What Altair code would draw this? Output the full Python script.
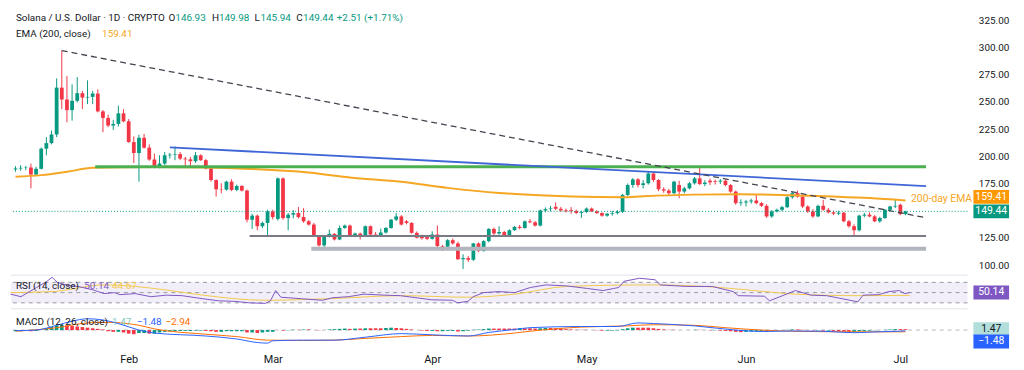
import altair as alt
import pandas as pd

# ---------------- data ----------------
START = pd.Timestamp("2025-01-10")

opens = [187.9, 188.8, 189.4, 189.7, 183.3, 188.5, 207.0, 212.1, 220.0, 263.0,
         252.1, 242.4, 250.9, 257.9, 253.9, 254.5, 257.6, 241.2, 235.2, 228.2,
         229.7, 239.4, 232.1, 213.0, 203.0, 217.0, 207.9, 197.0, 189.7, 193.3,
         200.9, 201.5, 202.0, 197.9, 197.2, 195.5, 200.9, 196.4, 188.8, 178.2,
         169.7, 169.4, 176.7, 169.1, 172.7, 168.5, 141.8, 145.5, 135.8, 138.8,
         149.4, 142.5, 179.7, 143.3, 146.4, 147.9, 144.2, 140.3, 137.3, 126.7,
         118.2, 126.7, 128.8, 123.6, 134.2, 136.4, 127.3, 129.1, 126.7, 135.8,
         128.2, 127.3, 130.0, 134.2, 141.8, 144.8, 140.3, 138.8, 129.7, 126.4,
         125.8, 124.2, 128.2, 117.6, 117.0, 123.0, 120.0, 105.5, 106.5, 105.0,
         120.0, 113.0, 122.1, 133.3, 129.1, 130.5, 127.3, 132.1, 135.2, 134.2,
         140.3, 139.4, 136.4, 150.3, 151.5, 153.6, 151.8, 150.3, 150.6, 149.8,
         148.0, 148.8, 152.0, 149.4, 147.9, 145.5, 147.3, 147.9, 149.0, 164.5,
         173.6, 178.8, 173.6, 175.2, 184.2, 178.2, 169.7, 168.5, 166.1, 173.6,
         167.6, 170.6, 175.2, 179.7, 174.5, 177.6, 177.3, 176.7, 177.6, 173.6,
         167.6, 157.0, 157.6, 158.5, 159.4, 157.0, 154.5, 144.8, 149.4, 150.9,
         153.3, 162.4, 166.1, 163.0, 153.9, 149.4, 144.8, 154.5, 150.9, 148.5,
         147.3, 148.2, 140.3, 135.8, 132.1, 145.5, 146.4, 144.8, 140.3, 143.3,
         150.9, 153.9, 155.5, 146.93]

highs = [190.9, 191.8, 191.2, 193.3, 190.3, 208.0, 217.6, 223.6, 271.5, 297.0,
         273.6, 266.1, 272.7, 260.0, 269.7, 260.0, 261.5, 242.5, 238.2, 233.5,
         246.4, 243.3, 234.2, 218.3, 219.7, 220.6, 210.9, 202.4, 200.9, 203.9,
         203.0, 209.1, 203.9, 199.4, 199.4, 203.9, 201.8, 197.5, 190.0, 178.8,
         175.2, 177.6, 178.8, 174.0, 173.5, 169.5, 147.3, 146.5, 140.0, 150.9,
         151.0, 180.6, 180.6, 148.0, 150.6, 153.3, 152.4, 141.5, 138.8, 127.6,
         127.6, 132.7, 129.4, 136.4, 137.3, 137.3, 130.0, 129.8, 136.4, 136.5,
         130.5, 133.6, 135.0, 142.4, 147.9, 146.0, 141.5, 139.5, 131.0, 128.0,
         127.0, 131.2, 136.4, 118.5, 124.0, 124.5, 121.5, 110.0, 108.5, 120.5,
         121.0, 123.0, 134.0, 134.5, 135.8, 131.5, 133.0, 136.0, 137.0, 141.0,
         142.5, 140.5, 151.0, 153.0, 154.5, 157.6, 153.5, 152.0, 153.3, 151.0,
         150.0, 153.0, 153.0, 150.5, 148.5, 148.0, 150.0, 150.5, 165.5, 175.0,
         180.0, 180.0, 178.2, 185.8, 185.0, 179.0, 171.5, 170.0, 177.5, 177.5,
         172.0, 176.5, 181.0, 190.3, 178.0, 179.5, 178.5, 179.0, 178.5, 174.5,
         168.5, 160.5, 160.0, 161.0, 164.5, 158.0, 156.0, 150.5, 152.0, 154.5,
         163.5, 167.5, 168.5, 164.0, 155.0, 151.5, 155.5, 160.0, 152.5, 150.0,
         150.0, 149.0, 141.5, 137.5, 146.5, 148.0, 148.5, 146.0, 144.5, 151.5,
         154.5, 160.0, 156.5, 149.98]

lows = [185.8, 186.7, 187.3, 170.6, 182.7, 187.9, 200.9, 210.9, 217.6, 243.3,
        231.2, 232.7, 249.4, 243.3, 247.9, 247.9, 240.3, 222.1, 226.7, 224.2,
        227.3, 231.2, 212.5, 193.9, 176.7, 207.0, 195.8, 189.0, 189.0, 191.8,
        197.9, 196.4, 196.4, 190.9, 190.9, 193.9, 195.8, 187.9, 176.7, 163.0,
        166.1, 168.5, 168.0, 167.9, 167.6, 139.4, 133.3, 132.1, 134.0, 127.3,
        142.0, 141.0, 141.8, 132.1, 143.0, 143.0, 139.0, 136.4, 125.8, 117.0,
        114.5, 125.5, 122.7, 123.0, 133.5, 126.1, 126.5, 123.6, 126.0, 127.5,
        126.7, 126.5, 129.0, 133.5, 140.5, 136.5, 137.5, 129.0, 124.5, 123.5,
        123.0, 123.5, 116.5, 113.0, 116.0, 119.0, 104.8, 96.5, 103.0, 103.9,
        112.0, 112.5, 121.0, 127.5, 128.0, 126.5, 126.5, 131.5, 133.0, 133.5,
        138.5, 135.5, 135.5, 148.5, 149.5, 150.5, 149.0, 148.5, 147.3, 147.0,
        143.5, 148.0, 148.8, 147.0, 144.5, 144.5, 145.5, 146.5, 148.0, 163.5,
        171.0, 171.5, 170.5, 174.0, 176.5, 168.0, 166.5, 164.5, 165.0, 161.5,
        166.0, 169.5, 174.0, 173.5, 172.5, 173.5, 174.0, 174.5, 172.5, 166.5,
        155.5, 154.5, 153.9, 156.5, 156.0, 153.5, 143.5, 143.5, 148.5, 149.5,
        152.5, 161.0, 162.0, 152.5, 148.0, 143.5, 144.0, 150.0, 147.5, 146.0,
        146.0, 139.5, 134.5, 126.5, 131.0, 144.0, 144.0, 139.5, 139.0, 142.5,
        150.0, 152.5, 146.0, 145.94]

closes = [188.8, 189.4, 189.7, 183.3, 188.5, 207.0, 212.1, 220.0, 263.0, 252.1,
          242.4, 250.9, 257.9, 253.9, 254.5, 257.6, 241.2, 235.2, 228.2, 229.7,
          239.4, 232.1, 213.0, 203.0, 217.0, 207.9, 197.0, 189.7, 193.3, 200.9,
          201.5, 202.0, 197.9, 197.2, 195.5, 200.9, 196.4, 188.8, 178.2, 169.7,
          169.4, 176.7, 169.1, 172.7, 168.5, 141.8, 145.5, 135.8, 138.8, 149.4,
          144.2, 179.7, 143.3, 146.4, 147.9, 144.2, 140.3, 137.3, 126.7, 118.2,
          126.7, 128.8, 123.6, 134.2, 136.4, 127.3, 129.1, 126.7, 135.8, 128.2,
          127.3, 130.0, 134.2, 141.8, 144.8, 137.3, 138.8, 129.7, 125.2, 124.8,
          124.2, 128.2, 117.6, 117.0, 123.0, 120.0, 105.5, 106.5, 105.0, 120.0,
          113.0, 122.1, 133.3, 129.1, 130.5, 127.3, 132.1, 135.2, 134.2, 140.3,
          139.4, 136.4, 150.3, 151.5, 152.1, 151.8, 150.3, 149.4, 149.8, 148.0,
          148.8, 152.0, 149.4, 147.9, 145.5, 147.3, 147.9, 149.0, 164.5, 173.6,
          178.8, 173.6, 175.2, 184.2, 178.2, 169.7, 168.5, 166.1, 176.7, 167.6,
          170.6, 175.2, 179.7, 174.5, 175.8, 176.1, 176.7, 177.6, 173.6, 167.6,
          157.0, 157.6, 158.5, 159.4, 157.0, 154.5, 144.8, 149.4, 150.9, 153.3,
          162.4, 166.1, 163.0, 153.9, 149.4, 144.8, 154.5, 150.9, 148.5, 147.3,
          148.2, 140.3, 135.8, 132.1, 145.5, 146.4, 144.8, 140.3, 143.3, 150.9,
          153.9, 154.5, 146.93, 149.44]

# EMA(200) read at sample days (day index from Jan 10)
ema_idx = [0, 5, 10, 15, 27, 37, 46, 56, 65, 75, 84, 94, 103, 113, 118, 122, 132, 141, 151, 159, 166, 173]
ema_val = [181.2, 182.7, 185.7, 189.4, 190.2, 189.8, 188.3, 185.5, 180.5, 176.6, 171.0, 166.3,
           164.0, 162.6, 162.4, 163.3, 164.8, 165.2, 164.2, 163.0, 161.6, 159.41]

# trend lines / levels drawn on the chart: (start day, end day, start price, end price)
trend_names = ["falling", "blue", "green", "support", "support2"]
trend_start = [9, 30, 15.5, 45.5, 57.5]
trend_end = [177, 177, 177, 177, 177]
trend_p0 = [297.0, 208.2, 190.3, 126.8, 115.2]
trend_p1 = [143.6, 172.7, 190.3, 126.8, 115.2]

# RSI(14) and its moving average, read at sample days
rsi_idx = [0, 2, 5, 7, 8, 9, 11, 13, 16, 18, 20, 21, 24, 27, 30, 33, 37, 40, 43, 46, 49, 50,
           51, 52, 56, 60, 62, 65, 68, 72, 75, 78, 81, 85, 86, 88, 89, 91, 94, 97, 100, 103,
           107, 111, 114, 116, 117, 118, 121, 124, 125, 130, 135, 139, 140, 145, 146, 151, 154,
           157, 159, 163, 164, 167, 169, 171, 172, 173]
rsi_val = [47, 42, 60, 72, 80, 70, 64, 62, 55, 48, 50, 46, 48, 42, 45, 44, 38, 34, 33, 30, 29, 34,
           54, 41, 38, 35, 40, 42, 47, 45, 44, 40, 36, 35, 30, 33, 42, 50, 52, 50, 60, 65,
           63, 58, 54, 58, 60, 72, 78, 75, 65, 62, 62, 52, 44, 43, 34, 54, 45,
           44, 40, 32, 45, 46, 52, 54, 48, 50.14]
rsima_idx = [0, 8, 18, 24, 30, 37, 49, 61, 75, 88, 97, 107, 123, 135, 143, 151, 163, 173]
rsima_val = [50, 52, 65, 62, 55, 45, 35, 38, 44, 41, 47, 62, 65, 61, 54, 47, 44, 44.67]

# MACD(12, 26) line and signal, read at sample days; histogram per day
macd_idx = [0, 4, 8, 11, 14, 17, 20, 24, 27, 37, 43, 47, 49, 50, 56, 62, 68, 75, 81, 88, 92,
            97, 100, 110, 117, 121, 124, 132, 140, 145, 151, 157, 163, 166, 173]
macd_val = [-1, 0, 8, 15, 19, 17, 11, 0, -5, -10, -15, -21, -22, -18, -17, -17, -12, -6, -8,
            -10, -4, 1, 4, 6, 6, 12, 11, 7, 0, -2.5, -1.5, -2, -4.5, -3.5, -1.48]
sig_idx = [0, 8, 14, 18, 24, 27, 37, 43, 49, 56, 62, 68, 75, 81, 88, 97, 100, 110, 119, 124,
           132, 138, 145, 151, 164, 173]
sig_val = [-2, 4, 12, 13, 8, 2, -7, -11, -17, -17.5, -17, -14, -11, -9, -10, -5, -2, 5, 7, 9,
           8, 4, 0, -2, -3, -2.94]
hist_val = [-2, -2, -1.5, -2, -1.5,
            1, 3, 5, 8, 9,
            8, 7, 6, 5, 4,
            3, 2, 1,
            -2, -3, -3, -4, -6, -7, -5, -5, -6, -6,
            -4, -3, -2, -2, -1.5, -1.5, -1.5, -1, -1, -1.5, -2, -3, -3,
            -2, -2, -2, -2, -4, -4, -5, -4, -3, -3,
            0, -1, -0.5, 0.5, 0.5, 1, 1, 0, -0.5, 0, 1,
            1.5, 2, 2.5, 2, 2.5, 2.5, 3, 3, 3, 3, 3.5, 4, 3.5, 3,
            2, 1, 0, -1, -1.5, -1.5, -2, -2, -1.5, -1.5, -2.5, -2,
            -1, 0.5, 1, 1.5, 2.5, 2.5, 2.5, 2.5, 2.5, 2.5, 3, 3, 3, 2.5, 3,
            3.5, 3.5, 3, 2, 1.5, 1, 0.5, 0.5, 0.5, 0, -0.5,
            -1, -1, -1, -0.5,
            1.5, 3, 4, 4, 4, 4,
            3, 2, 1, 0.5, 0.5, 0, 0, 0, 0.5, 0.5, 0, -0.5, -0.5, -1,
            -1.5, -2, -3, -3.5, -3, -2.5, -2,
            -2, -2, -1.5, -1, 0, 0.5, 1, 1, 0.5, 0, -0.5, -0.5, -1,
            -1, -1.5, -2, -2.5, -3, -3, -2, -1.5, -1,
            -0.5, 0, 0.5, 1, 1.5, 1.5, 1.47]

# ---------------- tables ----------------
def day(i):
    return (START + pd.Timedelta(hours=24 * i)).strftime("%Y-%m-%dT%H:%M:%S")

n = len(closes)
candles = pd.DataFrame({
    "date": [day(i) for i in range(n)],
    "open": opens, "high": highs, "low": lows, "close": closes,
})
candles["dir"] = ["up" if c >= o else "down" for o, c in zip(opens, closes)]

ema_df = pd.DataFrame({"date": [day(i) for i in ema_idx], "v": ema_val})
trend_rows = []
for nm, s, e, p0, p1 in zip(trend_names, trend_start, trend_end, trend_p0, trend_p1):
    trend_rows.append({"name": nm, "date": day(s), "v": p0})
    trend_rows.append({"name": nm, "date": day(e), "v": p1})
trend_df = pd.DataFrame(trend_rows)

rsi_df = pd.DataFrame({"date": [day(i) for i in rsi_idx], "v": rsi_val})
rsima_df = pd.DataFrame({"date": [day(i) for i in rsima_idx], "v": rsima_val})
macd_df = pd.DataFrame({"date": [day(i) for i in macd_idx], "v": macd_val})
sig_df = pd.DataFrame({"date": [day(i) for i in sig_idx], "v": sig_val})
hcol = []
for i, h in enumerate(hist_val):
    prev = hist_val[i - 1] if i > 0 else h
    if h >= 0:
        hcol.append("posup" if h > prev else "posdn")
    else:
        hcol.append("negdn" if h < prev else "negup")
hist_df = pd.DataFrame({"date": [day(i) for i in range(len(hist_val))], "h": hist_val, "c": hcol})

# ---------------- styling ----------------
FONT = "Roboto"
DARK = "#131722"
UP = "#089981"
DOWN = "#f23645"
EMA_C = "#f5a623"
W = 966
H_MAIN, H_RSI, H_MACD = 268, 34, 36
FS = 10

xsc = alt.Scale(domain=[alt.DateTime(year=2025, month=1, date=10, hours=2),
                        alt.DateTime(year=2025, month=7, date=13, hours=2)])
XN = alt.X("date:T", scale=xsc, axis=None)
one = pd.DataFrame({"k": [0]})

ysc = alt.Scale(domain=[90.9, 334.5], nice=False, zero=False)
yaxis = alt.Axis(orient="right", values=[100, 125, 175, 200, 225, 250, 275, 300, 325],
                 format=".2f", ticks=False, domain=False, grid=False, labelPadding=11,
                 labelFontSize=10, labelFont=FONT, labelColor=DARK, title=None)

def Ym(field):
    return alt.Y(field, scale=ysc, axis=yaxis)

def txt(s, x, y, color, size=FS, align="left"):
    return alt.Chart(one).mark_text(text=s, align=align, baseline="middle", font=FONT,
                                    fontSize=size, color=color).encode(
        x=alt.value(x), y=alt.value(y))

def box(label, y, bg, fg, clip=False):
    r = alt.Chart(one).mark_rule(strokeWidth=14, color=bg, strokeCap="butt", clip=clip).encode(
        x=alt.value(W + 6), x2=alt.value(W + 42), y=y)
    t = alt.Chart(one).mark_text(text=label, align="center", baseline="middle", font=FONT,
                                 fontSize=10.5, color=fg, clip=clip).encode(x=alt.value(W + 24), y=y)
    return [r, t]

cbase = alt.Chart(candles).encode(
    x=XN, color=alt.Color("dir:N", scale=alt.Scale(domain=["up", "down"], range=[UP, DOWN]), legend=None))
wicks = cbase.mark_rule(strokeWidth=1).encode(y=Ym("low:Q"), y2="high:Q")
bodies = cbase.mark_bar(size=3.8).encode(y=Ym("open:Q"), y2="close:Q")

ema = alt.Chart(ema_df).mark_line(color=EMA_C, strokeWidth=2, interpolate="monotone").encode(x=XN, y=Ym("v:Q"))

tstyle = {
    "falling": dict(color="#434651", strokeWidth=1.3, strokeDash=[6, 4]),
    "blue": dict(color="#3f66d6", strokeWidth=1.8),
    "green": dict(color="#4caf50", strokeWidth=3),
    "support": dict(color="#787b86", strokeWidth=2),
    "support2": dict(color="#b2b5be", strokeWidth=4),
}
trend_layers = []
for nm in ["support2", "support", "green", "blue", "falling"]:
    trend_layers.append(
        alt.Chart(trend_df).transform_filter(alt.datum.name == nm)
        .mark_line(**tstyle[nm]).encode(x=XN, y=Ym("v:Q")))

price_line = alt.Chart(one).mark_rule(color=UP, strokeDash=[1, 2], strokeWidth=1).encode(
    y=alt.YDatum(149.44, scale=ysc, axis=yaxis))

main_layers = [wicks, bodies, ema] + trend_layers + [price_line]
main_layers += [
    txt("200-day EMA", 909, 191, EMA_C, size=10.5),
    txt("Solana / U.S. Dollar · 1D · CRYPTO", 5, 8.5, DARK),
    txt("O", 159, 8.5, DARK), txt("146.93", 166, 8.5, UP),
    txt("H", 203, 8.5, DARK), txt("149.98", 210, 8.5, UP),
    txt("L", 246, 8.5, DARK), txt("145.94", 252, 8.5, UP),
    txt("C", 288, 8.5, DARK), txt("149.44", 295, 8.5, UP),
    txt("+2.51 (+1.71%)", 329, 8.5, UP),
    txt("EMA (200, close)", 5, 25, DARK), txt("159.41", 92, 25, EMA_C),
]
main_layers += box("159.41", alt.value(189), "#ff9800", "white")
main_layers += box("149.44", alt.YDatum(149.44, scale=ysc, axis=yaxis), UP, "white")
main = alt.layer(*main_layers).properties(width=W, height=H_MAIN)

# ---- RSI pane ----
rsc = alt.Scale(domain=[18.4, 84.1], nice=False, zero=False)
def Yr(field):
    return alt.Y(field, scale=rsc, axis=None)
def Rd(v):
    return alt.YDatum(v, scale=rsc, axis=None)

rsi_layers = [
    alt.Chart(one).mark_rect(color="#7e57c2", opacity=0.1).encode(
        x=alt.value(0), x2=alt.value(W), y=Rd(70), y2=alt.Y2Datum(30)),
]
for lv in [70, 50, 30]:
    rsi_layers.append(alt.Chart(one).mark_rule(color="#9598a1", strokeDash=[4, 4], strokeWidth=1).encode(y=Rd(lv)))
rsi_layers += [
    alt.Chart(rsima_df).mark_line(color="#f2c94c", strokeWidth=1, interpolate="monotone").encode(x=XN, y=Yr("v:Q")),
    alt.Chart(rsi_df).mark_line(color="#7e57c2", strokeWidth=1).encode(x=XN, y=Yr("v:Q")),
    alt.Chart(one).mark_rule(color="#e0e3eb", strokeWidth=1).encode(y=alt.value(0)),
    txt("RSI (14, close)", 5, 11, DARK), txt("50.14", 74, 11, "#7e57c2"), txt("44.67", 102, 11, "#f2c94c"),
]
rsi_layers += box("50.14", Rd(50.14), "#7e57c2", "white")
rsi_layers += box("44.67", alt.value(31), "#fdd835", DARK, clip=True)
rsi = alt.layer(*rsi_layers).properties(width=W, height=H_RSI)

# ---- MACD pane ----
msc = alt.Scale(domain=[-24.2, 35.8], nice=False, zero=False)
xaxis = alt.Axis(values=[alt.DateTime(year=2025, month=m, date=1) for m in range(2, 8)],
                 format="%b", ticks=False, domain=False, grid=False, labelPadding=9,
                 labelFontSize=11, labelFont=FONT, labelColor=DARK, title=None, labelFlush=False)
XM = alt.X("date:T", scale=xsc, axis=xaxis)
def Ymc(field):
    return alt.Y(field, scale=msc, axis=None)
def Md(v):
    return alt.YDatum(v, scale=msc, axis=None)

macd_layers = [
    alt.Chart(one).mark_rule(color="#9598a1", strokeDash=[4, 4], strokeWidth=1, opacity=0.7).encode(y=Md(0)),
    alt.Chart(hist_df).mark_bar(size=3.6).encode(
        x=XM, y=Ymc("h:Q"), y2=alt.Y2Datum(0),
        color=alt.Color("c:N", scale=alt.Scale(domain=["posup", "posdn", "negup", "negdn"],
                                               range=["#26a69a", "#b2dfdb", "#ffcdd2", "#ff5252"]), legend=None)),
    alt.Chart(sig_df).mark_line(color="#ff6d00", strokeWidth=1, interpolate="monotone").encode(x=XM, y=Ymc("v:Q")),
    alt.Chart(macd_df).mark_line(color="#2962ff", strokeWidth=1, interpolate="monotone").encode(x=XM, y=Ymc("v:Q")),
    alt.Chart(one).mark_rule(color="#e0e3eb", strokeWidth=1).encode(y=alt.value(0)),
    txt("MACD (12, 26, close)", 5, 13, DARK), txt("1.47", 102, 13, "#80cbc4"),
    txt("−1.48", 127, 13, "#2962ff"), txt("−2.94", 156, 13, "#ff6d00"),
]
macd_layers += box("1.47", Md(1.47), "#b2dfdb", DARK)
macd_layers += box("−1.48", alt.value(33), "#2962ff", "white")
macd = alt.layer(*macd_layers).properties(width=W, height=H_MACD)

chart = alt.vconcat(main, rsi, macd, spacing=0, bounds="flush").properties(
    padding=0, background="white").configure_view(stroke=None)

chart.save("out.html", embed_options={"renderer": "svg", "actions": False})
